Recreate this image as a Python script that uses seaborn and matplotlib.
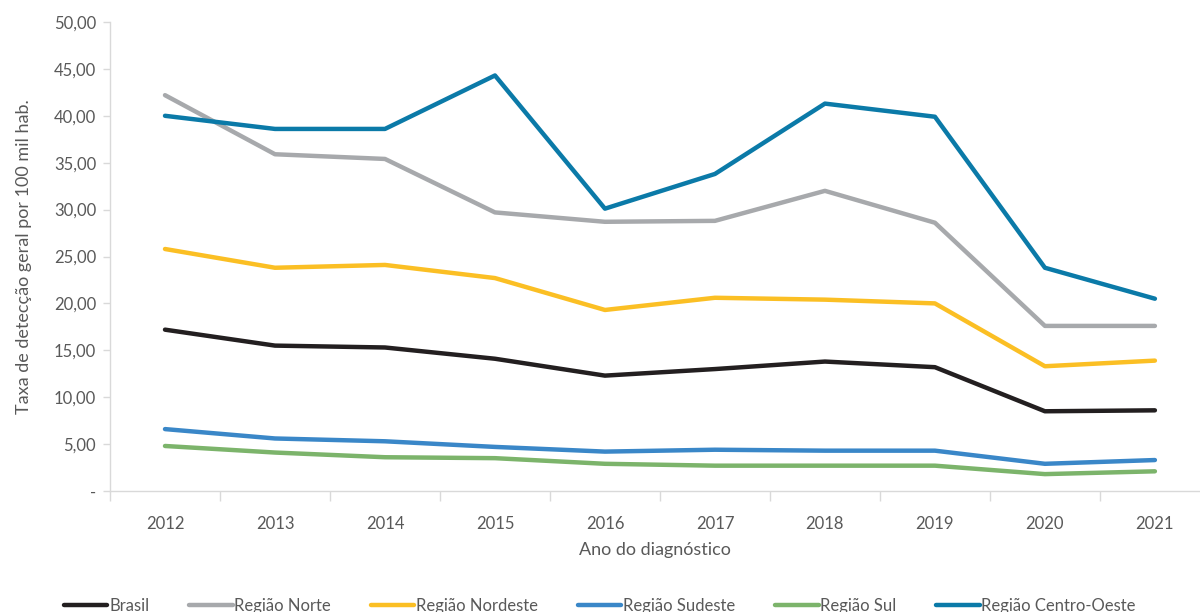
import numpy as np
import pandas as pd
import seaborn as sns
import matplotlib.pyplot as plt
from matplotlib.ticker import FuncFormatter, FixedLocator

# valores
anos = ['2012', '2013', '2014', '2015', '2016', '2017', '2018', '2019', '2020', '2021']
brasil = [17.2, 15.5, 15.3, 14.1, 12.3, 13.0, 13.8, 13.2, 8.5, 8.6]
norte = [42.2, 35.9, 35.4, 29.7, 28.7, 28.8, 32.0, 28.6, 17.6, 17.6]
nordeste = [25.8, 23.8, 24.1, 22.7, 19.3, 20.6, 20.4, 20.0, 13.3, 13.9]
sudeste = [6.6, 5.6, 5.3, 4.7, 4.2, 4.4, 4.3, 4.3, 2.9, 3.3]
sul = [4.8, 4.1, 3.6, 3.5, 2.9, 2.7, 2.7, 2.7, 1.8, 2.1]
centro_oeste = [40.0, 38.6, 38.6, 44.3, 30.1, 33.8, 41.3, 39.9, 23.8, 20.5]

regioes = ['Brasil', 'Região Norte', 'Região Nordeste', 'Região Sudeste', 'Região Sul', 'Região Centro-Oeste']
cores = ['#231f20', '#a7a9ac', '#fbbf24', '#3a87c8', '#7cb46b', '#0b7aa8']

series = [brasil, norte, nordeste, sudeste, sul, centro_oeste]
df = pd.DataFrame({
    'ano': np.tile(np.arange(len(anos)), len(regioes)),
    'taxa': np.concatenate(series),
    'regiao': np.repeat(regioes, len(anos)),
})

sns.set_theme(style='white')
plt.rcParams['font.family'] = ['Lato', 'DejaVu Sans']

fig = plt.figure(figsize=(12, 6.12), dpi=100)
ax = fig.add_axes([110 / 1200, 1 - 491 / 612, 1 - 110 / 1200, (491 - 22) / 612])

sns.lineplot(data=df, x='ano', y='taxa', hue='regiao', hue_order=regioes,
             palette=cores, linewidth=3.2, ax=ax)

ax.set_xlim(-0.5, 9.41)
ax.set_ylim(0, 50)
ax.set_yticks(np.arange(0, 51, 5))
ax.yaxis.set_major_formatter(FuncFormatter(lambda v, p: '-' if v == 0 else f'{v:.2f}'.replace('.', ',')))
ax.set_xticks(np.arange(len(anos)))
ax.set_xticklabels(anos)
ax.xaxis.set_minor_locator(FixedLocator(np.arange(-0.5, len(anos), 1)))
ax.tick_params(axis='x', which='major', length=0, pad=18, labelsize=12, labelcolor='#595959')
ax.tick_params(axis='x', which='minor', length=7, width=1, color='#d9d9d9', bottom=True)
ax.tick_params(axis='y', length=5, width=1, color='#d9d9d9', left=True, pad=5,
               labelsize=12, labelcolor='#595959')

for s in ['top', 'right']:
    ax.spines[s].set_visible(False)
for s in ['left', 'bottom']:
    ax.spines[s].set_color('#d9d9d9')
    ax.spines[s].set_linewidth(1)

ax.set_xlabel('Ano do diagnóstico', fontsize=13, color='#595959', labelpad=7)
ax.set_ylabel('Taxa de detecção geral por 100 mil hab.', fontsize=13, color='#595959', labelpad=16)

sns.move_legend(ax, 'lower center', bbox_to_anchor=(0.5, -0.22), bbox_transform=fig.transFigure,
                ncol=6, frameon=False, title=None, fontsize=12, handlelength=2.6,
                handletextpad=0.1, columnspacing=2.4)
ax.legend_.set_bbox_to_anchor((0.5, -0.028), transform=fig.transFigure)
for t in ax.legend_.get_texts():
    t.set_color('#595959')

fig.savefig('out.png', dpi=100)
